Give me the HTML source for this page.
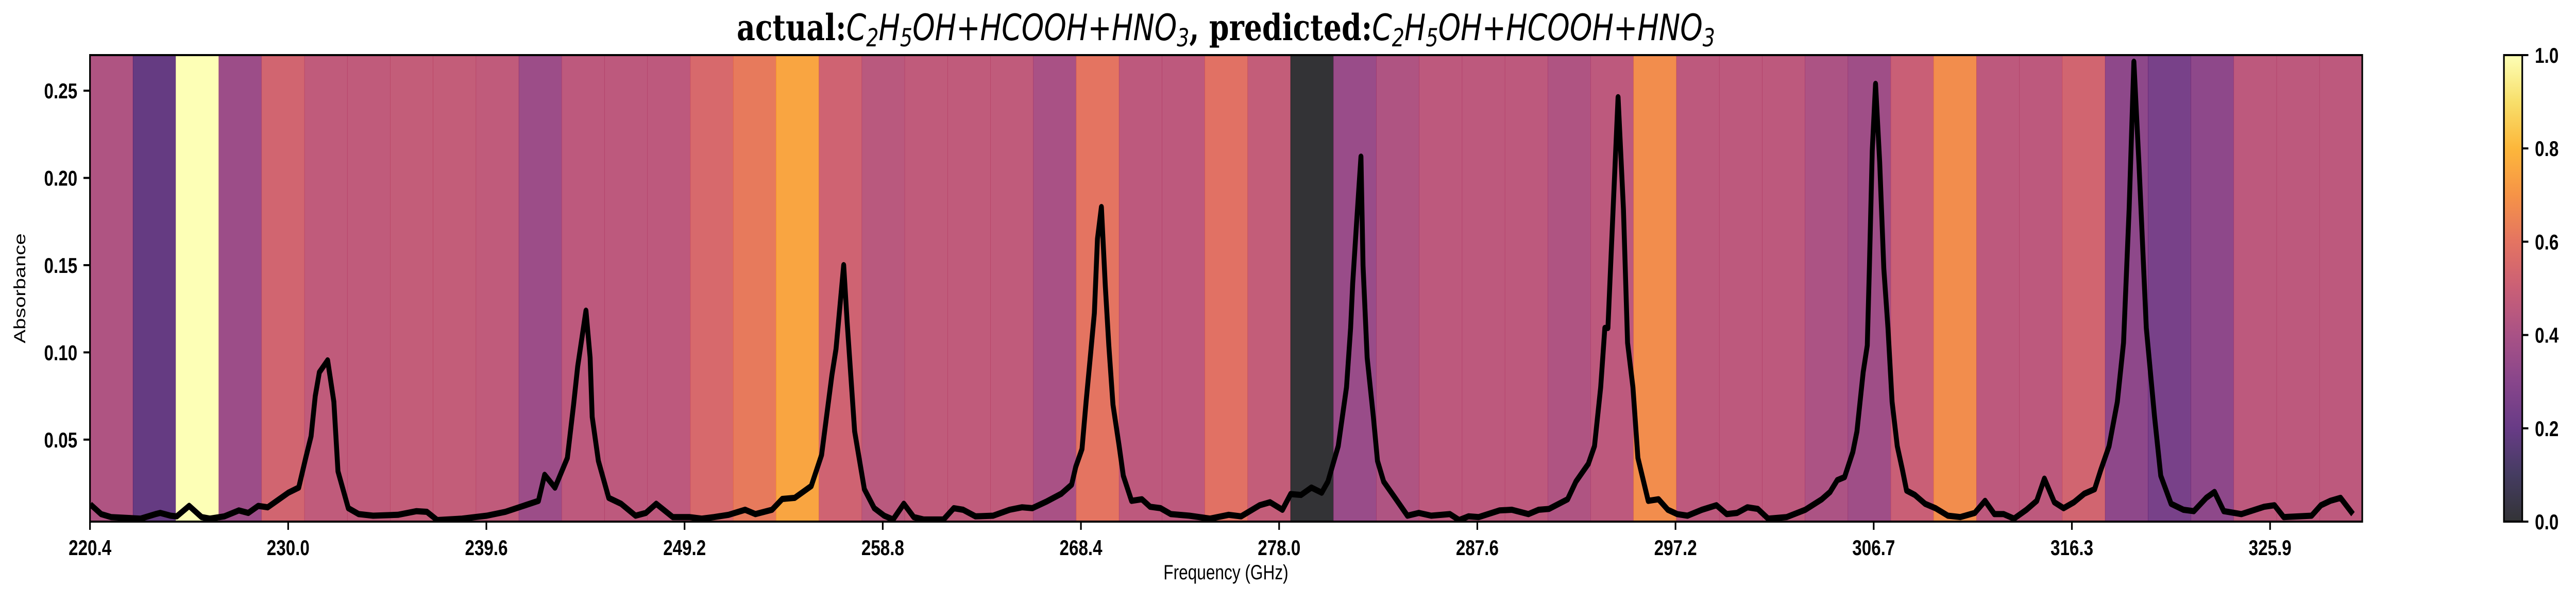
<!DOCTYPE html>
<html><head><meta charset="utf-8"><style>
html,body{margin:0;padding:0;background:#fff;width:100vw;height:100vh;overflow:hidden;}
svg{display:block;width:100vw;height:100vh;}
text{font-family:"Liberation Sans","DejaVu Sans",sans-serif;}
</style></head><body>
<svg id="chart" viewBox="0 0 6327 1173" preserveAspectRatio="none" xmlns="http://www.w3.org/2000/svg">
<defs>
<clipPath id="plotclip"><rect x="221" y="107" width="5581" height="906"/></clipPath>
<linearGradient id="cbgrad" x1="0" y1="1" x2="0" y2="0"></linearGradient>
</defs>
<text x="3011" y="78" text-anchor="middle" font-size="70" style="font-family:'DejaVu Serif','Liberation Serif',serif"><tspan font-weight="bold">actual:</tspan><tspan font-style="italic" style="font-family:'DejaVu Sans',sans-serif">C<tspan font-size="48" dy="12">2</tspan><tspan dy="-12">H</tspan><tspan font-size="48" dy="12">5</tspan><tspan dy="-12">OH+HCOOH+HNO</tspan><tspan font-size="48" dy="12">3</tspan></tspan><tspan dy="-12" font-weight="bold">, predicted:</tspan><tspan font-style="italic" style="font-family:'DejaVu Sans',sans-serif">C<tspan font-size="48" dy="12">2</tspan><tspan dy="-12">H</tspan><tspan font-size="48" dy="12">5</tspan><tspan dy="-12">OH+HCOOH+HNO</tspan><tspan font-size="48" dy="12">3</tspan></tspan></text>
<g id="bands" clip-path="url(#plotclip)"></g>
<g id="line" clip-path="url(#plotclip)"></g>
<rect x="221" y="107" width="5581" height="906" fill="none" stroke="#000" stroke-width="4"/>
<g id="xticks"></g>
<g id="yticks"></g>
<text x="3011" y="1125" text-anchor="middle" font-size="40">Frequency (GHz)</text>
<text x="62" y="560" text-anchor="middle" font-size="40" transform="rotate(-90 62 560)">Absorbance</text>
<g id="colorbar"></g>
</svg>
<script>
const bandValues=[0.42,0.19,1.0,0.36,0.53,0.47,0.47,0.48,0.48,0.47,0.36,0.46,0.46,0.46,0.55,0.62,0.75,0.52,0.45,0.47,0.47,0.47,0.40,0.60,0.46,0.46,0.59,0.48,0.0,0.35,0.42,0.46,0.46,0.46,0.42,0.46,0.68,0.46,0.46,0.46,0.41,0.37,0.50,0.68,0.46,0.46,0.53,0.32,0.25,0.32,0.46,0.46,0.46];
const freqs=[220.42,220.94,221.42,222.85,223.57,223.8,224.3,224.6,225.2,225.8,226.2,226.9,227.6,228.06,228.54,229.0,229.5,230.0,230.5,230.85,231.1,231.3,231.5,231.9,232.2,232.4,232.9,233.4,234.1,235.3,236.2,236.7,237.2,238.4,239.6,240.5,242.1,242.4,242.9,243.5,243.8,244.0,244.4,244.6,244.7,245.0,245.5,246.1,246.8,247.3,247.8,248.6,249.4,250.0,250.6,251.3,252.1,252.6,253.4,253.9,254.5,255.3,255.8,256.3,256.5,256.87,257.04,257.4,257.87,258.35,258.83,259.26,259.78,260.26,260.74,261.7,262.2,262.65,263.25,264.1,264.9,265.5,266.0,266.7,267.4,267.9,268.1,268.4,268.6,268.8,269.0,269.15,269.34,269.53,269.7,269.9,270.2,270.4,270.8,271.3,271.7,272.2,272.7,273.6,274.6,275.5,276.1,277.0,277.5,278.1,278.5,279.0,279.5,280.0,280.3,280.8,281.2,281.4,281.5,281.7,281.9,282.0,282.2,282.5,282.7,283.0,283.55,284.15,284.7,285.3,286.2,286.65,287.1,287.6,288.6,289.2,290.0,290.5,291.0,291.9,292.3,292.9,293.2,293.5,293.7,293.85,294.1,294.34,294.6,294.8,295.06,295.3,295.8,296.3,296.75,297.2,297.7,298.4,299.1,299.6,300.1,300.6,301.1,301.6,302.5,303.4,304.2,304.6,304.95,305.3,305.7,305.9,306.2,306.4,306.5,306.64,306.8,307.0,307.2,307.4,307.6,307.85,308.1,308.3,308.7,309.2,309.7,310.3,310.9,311.6,312.1,312.55,313.0,313.5,314.1,314.6,314.97,315.45,315.9,316.4,316.9,317.4,317.7,318.1,318.5,318.8,319.07,319.3,319.55,319.9,320.3,320.6,321.1,321.7,322.2,322.8,323.2,323.65,324.5,325.6,326.1,326.55,327.9,328.35,328.8,329.3,329.9];
const absorbance=[0.0129,0.0073,0.0056,0.0047,0.0073,0.008,0.0064,0.006,0.012,0.0056,0.0047,0.006,0.0094,0.008,0.012,0.0112,0.0154,0.0196,0.0225,0.040,0.052,0.075,0.0886,0.0954,0.0717,0.0318,0.0107,0.0073,0.0064,0.0069,0.009,0.0086,0.0039,0.0047,0.0064,0.0086,0.0149,0.0298,0.0225,0.0395,0.070,0.092,0.1239,0.097,0.063,0.0378,0.0166,0.0132,0.0064,0.008,0.0132,0.0056,0.0056,0.0047,0.0056,0.0069,0.0098,0.0073,0.0098,0.016,0.0166,0.0234,0.0412,0.087,0.102,0.150,0.117,0.0547,0.0216,0.0107,0.0064,0.0042,0.0132,0.0056,0.0042,0.0042,0.0107,0.0098,0.006,0.0064,0.0098,0.0112,0.0107,0.0146,0.019,0.0242,0.0344,0.0446,0.0717,0.097,0.1225,0.165,0.1833,0.138,0.104,0.07,0.0463,0.0293,0.0149,0.0158,0.0115,0.0107,0.0073,0.0064,0.0047,0.0069,0.006,0.0124,0.0141,0.0098,0.0188,0.0183,0.0225,0.0196,0.0259,0.0463,0.080,0.114,0.1395,0.1766,0.2122,0.1497,0.097,0.063,0.0378,0.0259,0.0166,0.0064,0.008,0.0064,0.0073,0.0039,0.006,0.0056,0.0094,0.0098,0.0073,0.0098,0.0103,0.0158,0.0259,0.0361,0.0463,0.080,0.114,0.114,0.182,0.2463,0.182,0.1055,0.08,0.0395,0.0149,0.0158,0.0098,0.0073,0.0064,0.0098,0.0124,0.0073,0.008,0.0112,0.0103,0.0047,0.0056,0.0098,0.0158,0.02,0.0268,0.0285,0.0429,0.0547,0.0886,0.104,0.148,0.2156,0.2539,0.2088,0.148,0.114,0.0717,0.0463,0.0327,0.0208,0.0183,0.0132,0.0107,0.0064,0.0056,0.008,0.0149,0.0073,0.0073,0.0047,0.0098,0.0149,0.0276,0.0141,0.0107,0.0141,0.019,0.0216,0.0327,0.0463,0.0717,0.1055,0.182,0.2666,0.2071,0.114,0.063,0.0293,0.0132,0.0098,0.009,0.0166,0.02,0.009,0.0073,0.0115,0.0124,0.0056,0.0064,0.0124,0.0149,0.0166,0.0073];
const xTickValues=[220.4,229.99,239.58,249.17,258.76,268.35,277.94,287.53,297.12,306.71,316.3,325.89];
const xTickLabels=["220.4","230.0","239.6","249.2","258.8","268.4","278.0","287.6","297.2","306.7","316.3","325.9"];
const yTickValues=[0.05,0.10,0.15,0.20,0.25];
const yTickLabels=["0.05","0.10","0.15","0.20","0.25"];
const cbTickValues=[0,0.2,0.4,0.6,0.8,1.0];
const cbTickLabels=["0.0","0.2","0.4","0.6","0.8","1.0"];

const NS="http://www.w3.org/2000/svg";
const PL=221,PR=5802,PT=107,PB=1013;
const XMIN=220.4,XMAX=330.35,YMIN=0.003,YMAX=0.2704;
function xs(v){return PL+(v-XMIN)/(XMAX-XMIN)*(PR-PL);}
function ys(v){return PB-(v-YMIN)/(YMAX-YMIN)*(PB-PT);}
const inferno=[[0,0,4],[22,11,57],[66,10,104],[106,23,110],[147,38,103],[188,55,84],[221,81,58],[243,120,25],[252,165,10],[246,215,70],[252,255,164]];
function cmap(t){t=Math.max(0,Math.min(1,t));const p=t*10,i=Math.min(9,Math.floor(p)),f=p-i;const a=inferno[i],b=inferno[i+1];return 'rgb('+[0,1,2].map(k=>Math.round(a[k]+(b[k]-a[k])*f)).join(',')+')';}
function mk(tag,attrs,parent){const e=document.createElementNS(NS,tag);for(const k in attrs)e.setAttribute(k,attrs[k]);parent.appendChild(e);return e;}

const bands=document.getElementById('bands');
const bw=(PR-PL)/bandValues.length;
bandValues.forEach((v,i)=>{
  const r=mk('rect',{x:PL+i*bw,y:PT,width:bw+0.8,height:PB-PT,fill:cmap(v),'fill-opacity':0.8},bands);
  
  
});

const lg=document.getElementById('line');
const pts=freqs.map((f,i)=>xs(f).toFixed(1)+','+ys(absorbance[i]).toFixed(1)).join(' ');
const pl=mk('polyline',{points:pts,fill:'none',stroke:'#000','stroke-width':12,'stroke-linejoin':'round','stroke-linecap':'butt'},lg);



const xg=document.getElementById('xticks');
xTickValues.forEach((v,i)=>{
  const x=xs(v);
  const t=mk('line',{x1:x,x2:x,y1:PB,y2:PB+16,stroke:'#000','stroke-width':4},xg);
  
  
  const l=mk('text',{x:x,y:1078,'text-anchor':'middle','font-size':42,'font-weight':'bold'},xg);
  
  
  l.textContent=xTickLabels[i];
});
const yg=document.getElementById('yticks');
yTickValues.forEach((v,i)=>{
  const y=ys(v);
  const t=mk('line',{x1:PL-16,x2:PL,y1:y,y2:y,stroke:'#000','stroke-width':4},yg);
  
  
  const l=mk('text',{x:190,y:y+15,'text-anchor':'end','font-size':42,'font-weight':'bold'},yg);
  
  
  l.textContent=yTickLabels[i];
});

const grad=document.getElementById('cbgrad');
for(let k=0;k<=20;k++){mk('stop',{offset:(k/20),'stop-color':cmap(k/20),'stop-opacity':0.8},grad);}
const cg=document.getElementById('colorbar');
const CL=6150,CR=6195;
const cr=mk('rect',{x:CL,y:PT,width:CR-CL,height:PB-PT,fill:'url(#cbgrad)',stroke:'#000','stroke-width':4},cg);


cbTickValues.forEach((v,i)=>{
  const y=PB-v*(PB-PT);
  const t=mk('line',{x1:CR,x2:CR+15,y1:y,y2:y,stroke:'#000','stroke-width':4},cg);
  
  
  const l=mk('text',{x:6226,y:y+15,'font-size':42,'font-weight':'bold'},cg);
  
  
  l.textContent=cbTickLabels[i];
});
</script>
</body></html>
